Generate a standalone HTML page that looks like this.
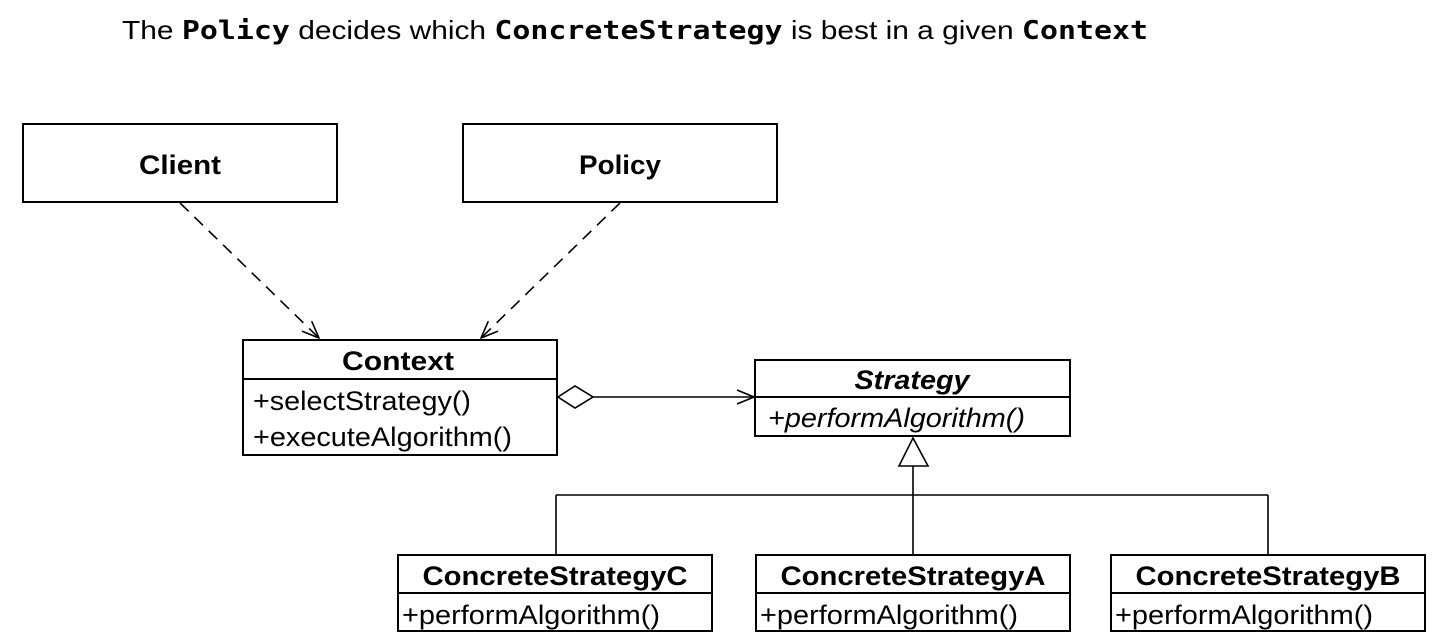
<!DOCTYPE html>
<html><head><meta charset="utf-8"><style>
html,body{margin:0;padding:0;background:#fff;}
svg{display:block;}
.s{font-family:"Liberation Sans",Arial,sans-serif;}
</style></head><body>
<svg width="1452" height="640" viewBox="0 0 1452 640" xmlns="http://www.w3.org/2000/svg">
<defs>
<marker id="oa" viewBox="0 0 20 20" refX="19" refY="10" markerWidth="20" markerHeight="20" markerUnits="userSpaceOnUse" orient="auto">
<path d="M2,3 L19,10 L2,17" fill="none" stroke="#000" stroke-width="1.6"/>
</marker>
</defs>
<text x="122" y="39" font-size="26" class="s" fill="#000" textLength="1026" lengthAdjust="spacingAndGlyphs">The <tspan font-family="'DejaVu Sans Mono','Liberation Mono',monospace" font-weight="bold">Policy</tspan> decides which <tspan font-family="'DejaVu Sans Mono','Liberation Mono',monospace" font-weight="bold">ConcreteStrategy</tspan> is best in a given <tspan font-family="'DejaVu Sans Mono','Liberation Mono',monospace" font-weight="bold">Context</tspan></text>

<g stroke="#000" stroke-width="2" fill="#fff">
<rect x="23" y="124" width="314" height="78"/>
<rect x="463" y="124" width="314" height="78"/>
<rect x="243" y="340" width="314" height="115"/>
<line x1="243" y1="379" x2="557" y2="379"/>
<rect x="755" y="360" width="315" height="76"/>
<line x1="755" y1="397" x2="1070" y2="397"/>
<rect x="398" y="555" width="314" height="76"/>
<line x1="398" y1="593" x2="712" y2="593"/>
<rect x="756" y="555" width="314" height="76"/>
<line x1="756" y1="593" x2="1070" y2="593"/>
<rect x="1111" y="555" width="314" height="76"/>
<line x1="1111" y1="593" x2="1425" y2="593"/>
</g>

<g stroke="#000" stroke-width="1.6" fill="none">
<line x1="180" y1="203" x2="319" y2="338" stroke-dasharray="12,8" marker-end="url(#oa)"/>
<line x1="620" y1="203" x2="481" y2="338" stroke-dasharray="12,8" marker-end="url(#oa)"/>
<line x1="593" y1="397" x2="754" y2="397" marker-end="url(#oa)"/>
<polygon points="558,397 575,386 593,397 575,408" fill="#fff"/>
<polygon points="913,438 899,466 928,466" fill="#fff"/>
<line x1="913" y1="466" x2="913" y2="555"/>
<line x1="556" y1="495" x2="1268" y2="495"/>
<line x1="556" y1="495" x2="556" y2="555"/>
<line x1="1268" y1="495" x2="1268" y2="555"/>
</g>

<g class="s" font-size="27" fill="#000">
<text x="180" y="174" text-anchor="middle" font-weight="bold" textLength="82" lengthAdjust="spacingAndGlyphs">Client</text>
<text x="620" y="174" text-anchor="middle" font-weight="bold" textLength="82" lengthAdjust="spacingAndGlyphs">Policy</text>
<text x="398" y="370" text-anchor="middle" font-weight="bold" textLength="112" lengthAdjust="spacingAndGlyphs">Context</text>
<text x="253" y="410" font-size="27" textLength="218" lengthAdjust="spacingAndGlyphs">+selectStrategy()</text>
<text x="253" y="446" font-size="27" textLength="259" lengthAdjust="spacingAndGlyphs">+executeAlgorithm()</text>
<text x="912" y="389" text-anchor="middle" font-weight="bold" font-style="italic" textLength="115" lengthAdjust="spacingAndGlyphs">Strategy</text>
<text x="768" y="427" font-size="27" font-style="italic" textLength="257" lengthAdjust="spacingAndGlyphs">+performAlgorithm()</text>
<text x="555" y="585" text-anchor="middle" font-weight="bold" textLength="265" lengthAdjust="spacingAndGlyphs">ConcreteStrategyC</text>
<text x="402" y="624" font-size="27" textLength="258" lengthAdjust="spacingAndGlyphs">+performAlgorithm()</text>
<text x="913" y="585" text-anchor="middle" font-weight="bold" textLength="265" lengthAdjust="spacingAndGlyphs">ConcreteStrategyA</text>
<text x="760" y="624" font-size="27" textLength="258" lengthAdjust="spacingAndGlyphs">+performAlgorithm()</text>
<text x="1268" y="585" text-anchor="middle" font-weight="bold" textLength="265" lengthAdjust="spacingAndGlyphs">ConcreteStrategyB</text>
<text x="1115" y="624" font-size="27" textLength="258" lengthAdjust="spacingAndGlyphs">+performAlgorithm()</text>
</g>
</svg>
</body></html>
